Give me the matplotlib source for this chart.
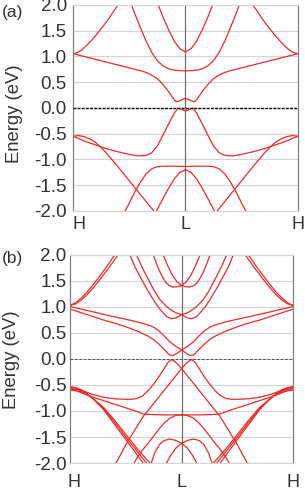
import numpy as np
import matplotlib
matplotlib.use("Agg")
import matplotlib.pyplot as plt

plt.rcParams['font.family'] = ['Liberation Sans', 'DejaVu Sans']

# k path: H = 0, L = 1, H = 2 ; energies in eV
kpt_labels = ["H", "L", "H"]
yticks = [2.0, 1.5, 1.0, 0.5, 0.0, -0.5, -1.0, -1.5, -2.0]

# ---- panel (a), bands read on H -> L, mirrored about L ----
a1_k = [0, 0.04, 0.08, 0.12, 0.16, 0.20, 0.24, 0.28, 0.32, 0.36, 0.40, 0.42]
a1_e = [1.055, 1.075, 1.13, 1.21, 1.30, 1.40, 1.51, 1.62, 1.74, 1.87, 2.0, 2.07]
a2_k = [0, 0.1, 0.2, 0.3, 0.4, 0.5, 0.6, 0.65, 0.7, 0.75, 0.8, 0.85, 0.9, 0.92, 0.95, 0.98, 1.0]
a2_e = [1.055, 1.0, 0.945, 0.89, 0.835, 0.78, 0.725, 0.69, 0.64, 0.57, 0.46, 0.32, 0.16, 0.12, 0.14, 0.175, 0.18]
a3_k = [0.51, 0.56, 0.60, 0.65, 0.70, 0.75, 0.80, 0.85, 0.90, 0.95, 1.0]
a3_e = [2.06, 1.78, 1.56, 1.30, 1.08, 0.92, 0.82, 0.76, 0.735, 0.725, 0.72]
a4_k = [0.75, 0.8, 0.85, 0.9, 0.95, 1.0]
a4_e = [2.05, 1.77, 1.52, 1.30, 1.15, 1.09]
av1_k = [0, 0.05, 0.1, 0.15, 0.2, 0.24, 0.3, 0.4, 0.5, 0.58, 0.65, 0.7, 0.75, 0.8, 0.85, 0.9, 0.935, 0.97, 1.0]
av1_e = [-0.55, -0.59, -0.64, -0.68, -0.715, -0.745, -0.79, -0.85, -0.90, -0.93, -0.92, -0.87, -0.74, -0.53, -0.31, -0.10, 0.0, -0.035, -0.055]
av2_k = [0, 0.05, 0.1, 0.15, 0.2, 0.24, 0.3, 0.4, 0.5, 0.6, 0.7, 0.75]
av2_e = [-0.55, -0.535, -0.555, -0.60, -0.665, -0.745, -0.88, -1.14, -1.41, -1.68, -1.95, -2.09]
av3_k = [0.44, 0.5, 0.55, 0.6, 0.65, 0.7, 0.75, 0.8, 0.9, 1.0]
av3_e = [-2.1, -1.85, -1.63, -1.44, -1.28, -1.18, -1.14, -1.13, -1.13, -1.135]
av4_k = [0.73, 0.8, 0.85, 0.9, 0.95, 1.0]
av4_e = [-2.05, -1.76, -1.56, -1.38, -1.25, -1.20]

# ---- panel (b) ----
# symmetric bands (H -> L half)
bc1_k = [0, 0.05, 0.1, 0.15, 0.2, 0.25, 0.3, 0.35, 0.4, 0.43, 0.45]
bc1_e = [1.03, 1.06, 1.13, 1.23, 1.35, 1.48, 1.62, 1.76, 1.91, 2.0, 2.06]
bc2_k = [0, 0.05, 0.1, 0.15, 0.2, 0.25, 0.3, 0.35, 0.4, 0.42]
bc2_e = [1.03, 1.08, 1.17, 1.28, 1.41, 1.55, 1.69, 1.84, 2.0, 2.06]
bw3_k = [0, 0.1, 0.2, 0.3, 0.4, 0.5, 0.6, 0.66, 0.75, 0.85, 1.0]
bw3_e = [-0.56, -0.65, -0.73, -0.80, -0.87, -0.94, -1.01, -1.06, -1.07, -1.075, -1.075]
bs1_k = [0, 0.05, 0.1, 0.15, 0.2, 0.3, 0.4, 0.5, 0.6, 0.655, 0.68]
bs1_e = [-0.54, -0.55, -0.59, -0.66, -0.75, -0.97, -1.26, -1.55, -1.84, -2.0, -2.08]
bs2_k = [0, 0.05, 0.1, 0.15, 0.2, 0.3, 0.4, 0.5, 0.6, 0.685, 0.71]
bs2_e = [-0.57, -0.58, -0.61, -0.67, -0.75, -0.95, -1.22, -1.50, -1.77, -2.0, -2.08]
bs3_k = [0, 0.05, 0.1, 0.15, 0.2, 0.3, 0.4, 0.5, 0.6, 0.715, 0.74]
bs3_e = [-0.60, -0.61, -0.63, -0.68, -0.75, -0.93, -1.18, -1.45, -1.72, -2.0, -2.07]
bx_k = [0.55, 0.6, 0.65, 0.7, 0.75, 0.8, 0.85, 0.9, 0.95, 1.0]
bx_e = [-2.1, -1.90, -1.75, -1.62, -1.48, -1.34, -1.22, -1.13, -1.085, -1.07]

# Rashba-split pairs: full path for one branch, partner is its mirror
bp_k = [0.73, 0.746, 0.77, 0.80, 0.83, 0.86, 0.89, 0.925, 0.96, 1.0, 1.04, 1.08, 1.12, 1.165, 1.18]
bp_e = [2.1, 2.0, 1.86, 1.70, 1.57, 1.47, 1.41, 1.385, 1.39, 1.415, 1.48, 1.60, 1.77, 2.0, 2.08]
bq_k = [0.52, 0.537, 0.58, 0.627, 0.68, 0.746, 0.79, 0.835, 0.87, 0.91, 0.95, 1.0, 1.04, 1.075,
        1.13, 1.194, 1.25, 1.313, 1.36, 1.403, 1.42]
bq_e = [2.08, 2.0, 1.78, 1.59, 1.38, 1.14, 1.0, 0.885, 0.81, 0.775, 0.79, 0.852, 0.88, 0.915,
        1.0, 1.14, 1.33, 1.59, 1.79, 2.0, 2.08]
bru_k = [0, 0.1, 0.2, 0.3, 0.4, 0.5, 0.6, 0.7, 0.75, 0.8, 0.85, 0.9, 0.95, 1.0]
bru_e = [1.01, 0.96, 0.91, 0.86, 0.81, 0.765, 0.715, 0.655, 0.61, 0.535, 0.43, 0.32, 0.24, 0.175]
brl_k = [0, 0.1, 0.2, 0.3, 0.4, 0.5, 0.6, 0.7, 0.75, 0.8, 0.85, 0.89, 0.92, 0.96, 1.0]
brl_e = [0.96, 0.89, 0.82, 0.75, 0.69, 0.62, 0.54, 0.44, 0.37, 0.28, 0.17, 0.08, 0.065, 0.11, 0.175]
bw1_k = [0, 0.05, 0.1, 0.2, 0.3, 0.4, 0.5, 0.55, 0.6, 0.65, 0.7, 0.75, 0.8, 0.85, 0.88, 0.91,
         0.94, 0.97, 1.0, 1.1, 1.2, 1.3, 1.34, 1.4, 1.5, 1.6]
bw1_e = [-0.53, -0.56, -0.60, -0.68, -0.735, -0.765, -0.775, -0.775, -0.76, -0.71, -0.61, -0.48,
         -0.33, -0.16, -0.06, -0.01, -0.05, -0.11, -0.186, -0.45, -0.72, -0.99, -1.09, -1.30, -1.65, -2.05]
by_k = [0.72, 0.76, 0.8, 0.84, 0.89, 0.94, 1.0, 1.05, 1.1, 1.135, 1.15]
by_e = [-2.05, -1.8, -1.65, -1.57, -1.54, -1.56, -1.62, -1.71, -1.86, -2.0, -2.07]

red = "#ee2a2a"
txt = "#333333"


def draw_sym(ax, k, e):
    # band and its mirror image about L
    k = np.array(k)
    ax.plot(k, e, color=red, lw=0.9)
    ax.plot(2 - k, e, color=red, lw=0.9)


def frame(ax, fermi_style, pad):
    ax.set_xlim(0, 2)
    ax.set_ylim(-2, 2)
    ax.set_yticks(yticks)
    ax.set_yticklabels(["%.1f" % t for t in yticks], fontsize=13.5, color=txt)
    for t in yticks:
        ax.axhline(t, color="#d4d4d4", lw=0.8, zorder=0)
    ax.axvline(1, color="#707070", lw=0.9, zorder=0)
    ax.axhline(0, zorder=3, **fermi_style)
    ax.set_xticks([])
    ax.tick_params(axis="y", length=0, pad=pad)
    for s in ["left", "right"]:
        ax.spines[s].set_color("#808080")
        ax.spines[s].set_linewidth(0.9)
    for s in ["top", "bottom"]:
        ax.spines[s].set_color("#d4d4d4")
        ax.spines[s].set_linewidth(0.8)


fig = plt.figure(figsize=(3.05, 4.90), dpi=100)
ax1 = fig.add_axes([0.239, 0.5694, 0.738, 0.4204])
ax2 = fig.add_axes([0.2295, 0.0551, 0.732, 0.4245])

for k, e in [(a1_k, a1_e), (a2_k, a2_e), (a3_k, a3_e), (a4_k, a4_e),
             (av1_k, av1_e), (av2_k, av2_e), (av3_k, av3_e), (av4_k, av4_e)]:
    draw_sym(ax1, k, e)

for k, e in [(bc1_k, bc1_e), (bc2_k, bc2_e), (bw3_k, bw3_e), (bs1_k, bs1_e),
             (bs2_k, bs2_e), (bs3_k, bs3_e), (bx_k, bx_e),
             (bp_k, bp_e), (bq_k, bq_e), (bw1_k, bw1_e), (by_k, by_e)]:
    draw_sym(ax2, k, e)
# lower conduction pair: upper branch on the left joins lower branch on the right
ra_k = list(bru_k) + [2 - x for x in brl_k[::-1]]
ra_e = list(bru_e) + list(brl_e[::-1])
draw_sym(ax2, ra_k, ra_e)

frame(ax1, dict(color="black", lw=1.0, ls=(0, (2, 1))), 4.3)
frame(ax2, dict(color="#555555", lw=0.7, ls=(0, (3, 1.5))), 2.6)

# axis titles and panel tags placed in figure pixels
W, H = 305.0, 490.0
fig.text(14.5 / W, 1 - 114 / H, "Energy (eV)", rotation=90, ha="center", va="center",
         fontsize=13.3, color=txt)
fig.text(12 / W, 1 - 360 / H, "Energy (eV)", rotation=90, ha="center", va="center",
         fontsize=13.3, color=txt)
fig.text(2 / W, 1 - 12 / H, "(a)", ha="left", va="center", fontsize=12.5, color=txt)
fig.text(2 / W, 1 - 259 / H, "(b)", ha="left", va="center", fontsize=12.5, color=txt)

# k-point labels
ax1.text(0.0, -2.35, kpt_labels[0], ha="left", va="baseline", fontsize=13, color=txt)
ax1.text(1.0, -2.35, kpt_labels[1], ha="center", va="baseline", fontsize=13, color=txt)
ax1.text(2.0, -2.35, kpt_labels[2], ha="center", va="baseline", fontsize=13, color=txt)
ax2.text(0.035, -2.47, kpt_labels[0], ha="center", va="baseline", fontsize=13, color=txt)
ax2.text(1.0, -2.47, kpt_labels[1], ha="center", va="baseline", fontsize=13, color=txt)
ax2.text(2.0, -2.47, kpt_labels[2], ha="center", va="baseline", fontsize=13, color=txt)

fig.savefig("out.png", dpi=100)
